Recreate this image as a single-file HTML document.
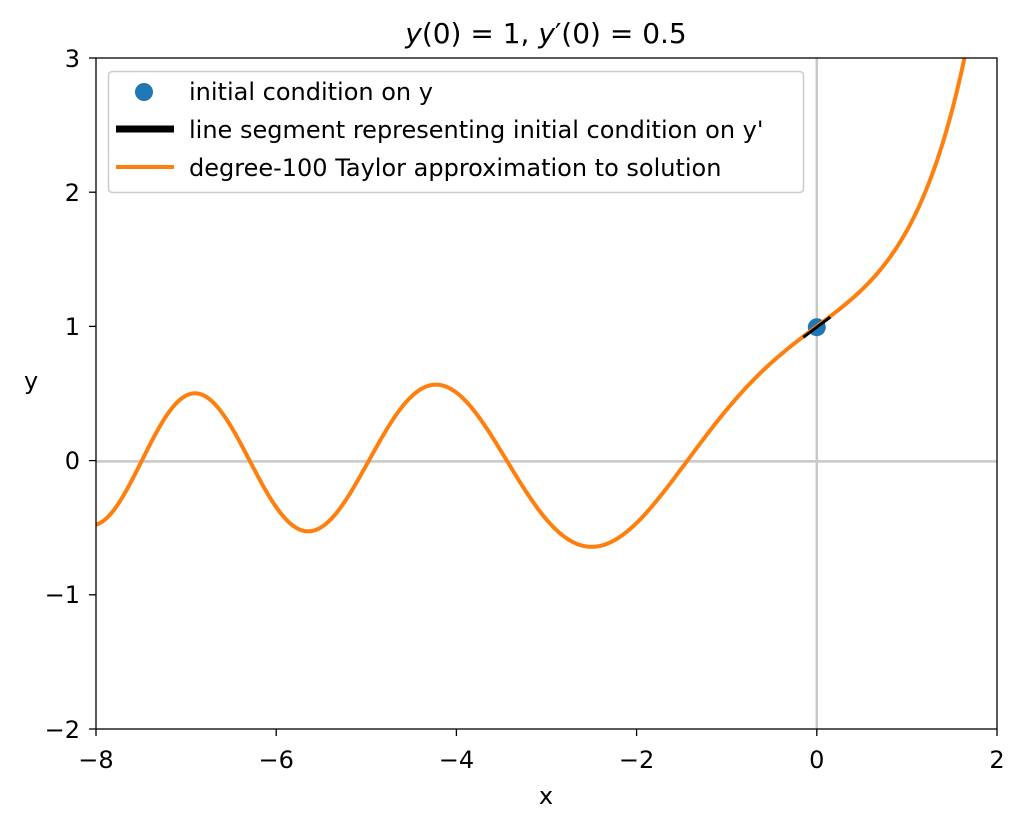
<!DOCTYPE html>
<html><head><meta charset="utf-8"><style>
body{margin:0;background:#fff}
svg text{font-family:"DejaVu Sans","Liberation Sans",sans-serif;font-size:24px;fill:#000}
</style></head><body>
<svg id="s" width="1024" height="822" viewBox="0 0 1024 822" xmlns="http://www.w3.org/2000/svg">
<defs><clipPath id="c"><rect x="96" y="58" width="901" height="671"/></clipPath></defs>
<rect width="1024" height="822" fill="#fff"/>
<g clip-path="url(#c)">
<line x1="96" y1="461.4" x2="997" y2="461.4" stroke="#c8c8c8" stroke-width="2.5"/>
<line x1="816.8" y1="58" x2="816.8" y2="729" stroke="#c8c8c8" stroke-width="2.5"/>
<circle cx="816.8" cy="327.2" r="9" fill="#1f77b4"/>
<path id="curve" d="" fill="none" stroke="#ff7f0e" stroke-width="4"/>
<line x1="803.3" y1="337.3" x2="830.3" y2="317.1" stroke="#000" stroke-width="3"/>
</g>
<rect x="96" y="58" width="901" height="671" fill="none" stroke="#000" stroke-width="1.3"/>
<g stroke="#000" stroke-width="1.3">
<line x1="96" y1="729" x2="96" y2="736"/><line x1="276.2" y1="729" x2="276.2" y2="736"/><line x1="456.4" y1="729" x2="456.4" y2="736"/><line x1="636.6" y1="729" x2="636.6" y2="736"/><line x1="816.8" y1="729" x2="816.8" y2="736"/><line x1="997" y1="729" x2="997" y2="736"/>
<line x1="89" y1="58" x2="96" y2="58"/><line x1="89" y1="192.2" x2="96" y2="192.2"/><line x1="89" y1="326.4" x2="96" y2="326.4"/><line x1="89" y1="460.6" x2="96" y2="460.6"/><line x1="89" y1="594.8" x2="96" y2="594.8"/><line x1="89" y1="729" x2="96" y2="729"/>
</g>
<g text-anchor="middle">
<text x="96" y="768">−8</text><text x="276.2" y="768">−6</text><text x="456.4" y="768">−4</text><text x="636.6" y="768">−2</text><text x="816.8" y="768">0</text><text x="997" y="768">2</text>
<text x="546" y="804">x</text>
</g>
<g text-anchor="end">
<text x="80" y="67">3</text><text x="80" y="201">2</text><text x="80" y="335">1</text><text x="80" y="469">0</text><text x="80" y="603">−1</text><text x="80" y="738">−2</text>
</g>
<text x="24" y="389">y</text>
<text x="546" y="43" text-anchor="middle" style="font-size:28px"><tspan font-style="italic">y</tspan>(0) = 1, <tspan font-style="italic">y</tspan>′(0) = 0.5</text>
<rect x="108.5" y="71.5" width="695" height="121" rx="4" fill="#fff" stroke="#ccc" stroke-width="1.5"/>
<circle cx="144" cy="92" r="9" fill="#1f77b4"/>
<line x1="116" y1="129" x2="174" y2="129" stroke="#000" stroke-width="7"/>
<line x1="116" y1="167" x2="174" y2="167" stroke="#ff7f0e" stroke-width="4"/>
<text x="189" y="100">initial condition on y</text>
<text x="189" y="138">line segment representing initial condition on y'</text>
<text x="189" y="176">degree-100 Taylor approximation to solution</text>
</svg>
<script>
function run(h){var x=0,y=1,v=0.5,pts=[];pts.push([x,y]);
for(var i=0;i<4000;i++){
var f=function(x,y,v){return [v,x*y];};
var k1=f(x,y,v),k2=f(x+h/2,y+h/2*k1[0],v+h/2*k1[1]),k3=f(x+h/2,y+h/2*k2[0],v+h/2*k2[1]),k4=f(x+h,y+h*k3[0],v+h*k3[1]);
y+=h/6*(k1[0]+2*k2[0]+2*k3[0]+k4[0]);v+=h/6*(k1[1]+2*k2[1]+2*k3[1]+k4[1]);x+=h;pts.push([x,y]);
if(x<-8.05||x>2.05||y>4)break;}return pts;}
var a=run(-0.005).reverse(),b=run(0.005);var all=a.concat(b.slice(1));
var d="";all.forEach(function(p,i){var px=96+(p[0]+8)*90.1,py=460.6-p[1]*134.2;d+=(i?"L":"M")+px.toFixed(1)+","+py.toFixed(1);});
document.getElementById("curve").setAttribute("d",d);
</script>
</body></html>
